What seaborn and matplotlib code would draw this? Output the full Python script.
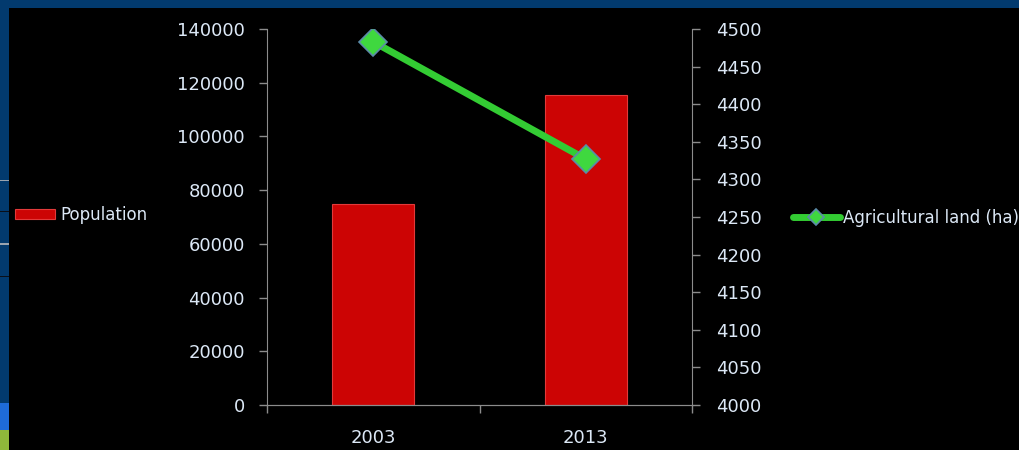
import numpy as np
import pandas as pd
import matplotlib
matplotlib.use("Agg")
import matplotlib.pyplot as plt
from matplotlib.patches import Rectangle
import seaborn as sns

# chart values
years = ["2003", "2013"]
population = [75000, 115500]
agri_land = [4483, 4327]

pop_ticks = np.arange(0, 140001, 20000)
land_ticks = np.arange(4000, 4501, 50)

df = pd.DataFrame({"year": years, "population": population, "land": agri_land})
df["pos"] = np.arange(len(years))

text_col = "#dce8f6"
axis_col = "#8c8c8c"
slide_blue = "#023a6e"

sns.set_style("ticks", {"axes.facecolor": "black", "axes.edgecolor": axis_col,
                        "xtick.color": axis_col, "ytick.color": axis_col})
plt.rcParams['font.family'] = ['DejaVu Sans']

fig = plt.figure(figsize=(10.2, 4.5), dpi=100, facecolor=slide_blue)
W, H = 1020, 450
# black slide body
fig.add_artist(Rectangle((9 / W, 0), 1, 1 - 8 / H, transform=fig.transFigure,
                         facecolor="black", edgecolor="none", zorder=-2))
# bits of the slide on the left edge
for y, c in [(181, "#9aa4b0"), (212, "#0a0f18"), (245, "#9aa4b0"), (277, "#0a0f18")]:
    fig.add_artist(Rectangle((0, 1 - y / H), 9 / W, 1.5 / H, transform=fig.transFigure,
                             facecolor=c, edgecolor="none", zorder=-1))
fig.add_artist(Rectangle((0, 1 - 430 / H), 9 / W, 27 / H, transform=fig.transFigure,
                         facecolor="#1e6bd8", edgecolor="none", zorder=-1))
fig.add_artist(Rectangle((0, 0), 9 / W, 20 / H, transform=fig.transFigure,
                         facecolor="#8fb83a", edgecolor="none", zorder=-1))

ax = fig.add_axes([267 / W, 1 - 405 / H, 425 / W, 376 / H])
sns.barplot(data=df, x="pos", y="population", color="#cc0404", saturation=1,
            width=0.386, edgecolor="#e23a3a", linewidth=0.8, ax=ax)

ax2 = ax.twinx()
sns.lineplot(data=df, x="pos", y="land", ax=ax2, color="#33cc33", linewidth=5,
             marker="D", markersize=14.5, markerfacecolor="#3fd83f",
             markeredgecolor="#5b8ba8", markeredgewidth=1.2)

ax.set_xlim(-0.5, 1.5)
ax.set_ylim(0, 140000)
ax2.set_ylim(4000, 4500)

ax.set_yticks(pop_ticks)
ax.set_yticklabels([str(v) for v in pop_ticks])
ax2.set_yticks(land_ticks)
ax2.set_yticklabels([str(v) for v in land_ticks])

ax.set_xticks([-0.5, 0.5, 1.5])
ax.set_xticklabels([])
ax.set_xticks(df["pos"], minor=True)
ax.set_xticklabels(years, minor=True)

ax.tick_params(axis="y", direction="out", length=6, width=1, colors=axis_col,
               labelcolor=text_col, labelsize=13, pad=10)
ax2.tick_params(axis="y", direction="out", length=6, width=1, colors=axis_col,
                labelcolor=text_col, labelsize=13, pad=11)
ax.tick_params(axis="x", which="major", direction="out", length=6, width=1, colors=axis_col)
ax.tick_params(axis="x", which="minor", length=0, labelcolor=text_col, labelsize=13, pad=17)

ax.set_xlabel("")
ax.set_ylabel("")
ax2.set_ylabel("")
for a in (ax, ax2):
    a.spines["top"].set_visible(False)
ax.spines["right"].set_visible(False)
ax2.spines["left"].set_visible(False)
ax2.spines["right"].set_color(axis_col)
ax2.patch.set_visible(False)

leg1 = fig.legend([ax.patches[0]], ["Population"], loc="center left",
                  bbox_to_anchor=(15 / W, 1 - 215 / H), frameon=False, fontsize=12,
                  labelcolor=text_col, handlelength=2.4, handleheight=0.6,
                  handletextpad=0.3, borderpad=0, borderaxespad=0)
leg2 = fig.legend([ax2.lines[0]], ["Agricultural land (ha)"], loc="center left",
                  bbox_to_anchor=(793 / W, 1 - 218 / H), frameon=False, fontsize=12,
                  labelcolor=text_col, handlelength=2.8, handletextpad=0.2,
                  borderpad=0, borderaxespad=0)
leg2.legend_handles[0].set_markersize(8)

fig.savefig("out.png", dpi=100, facecolor=fig.get_facecolor())
